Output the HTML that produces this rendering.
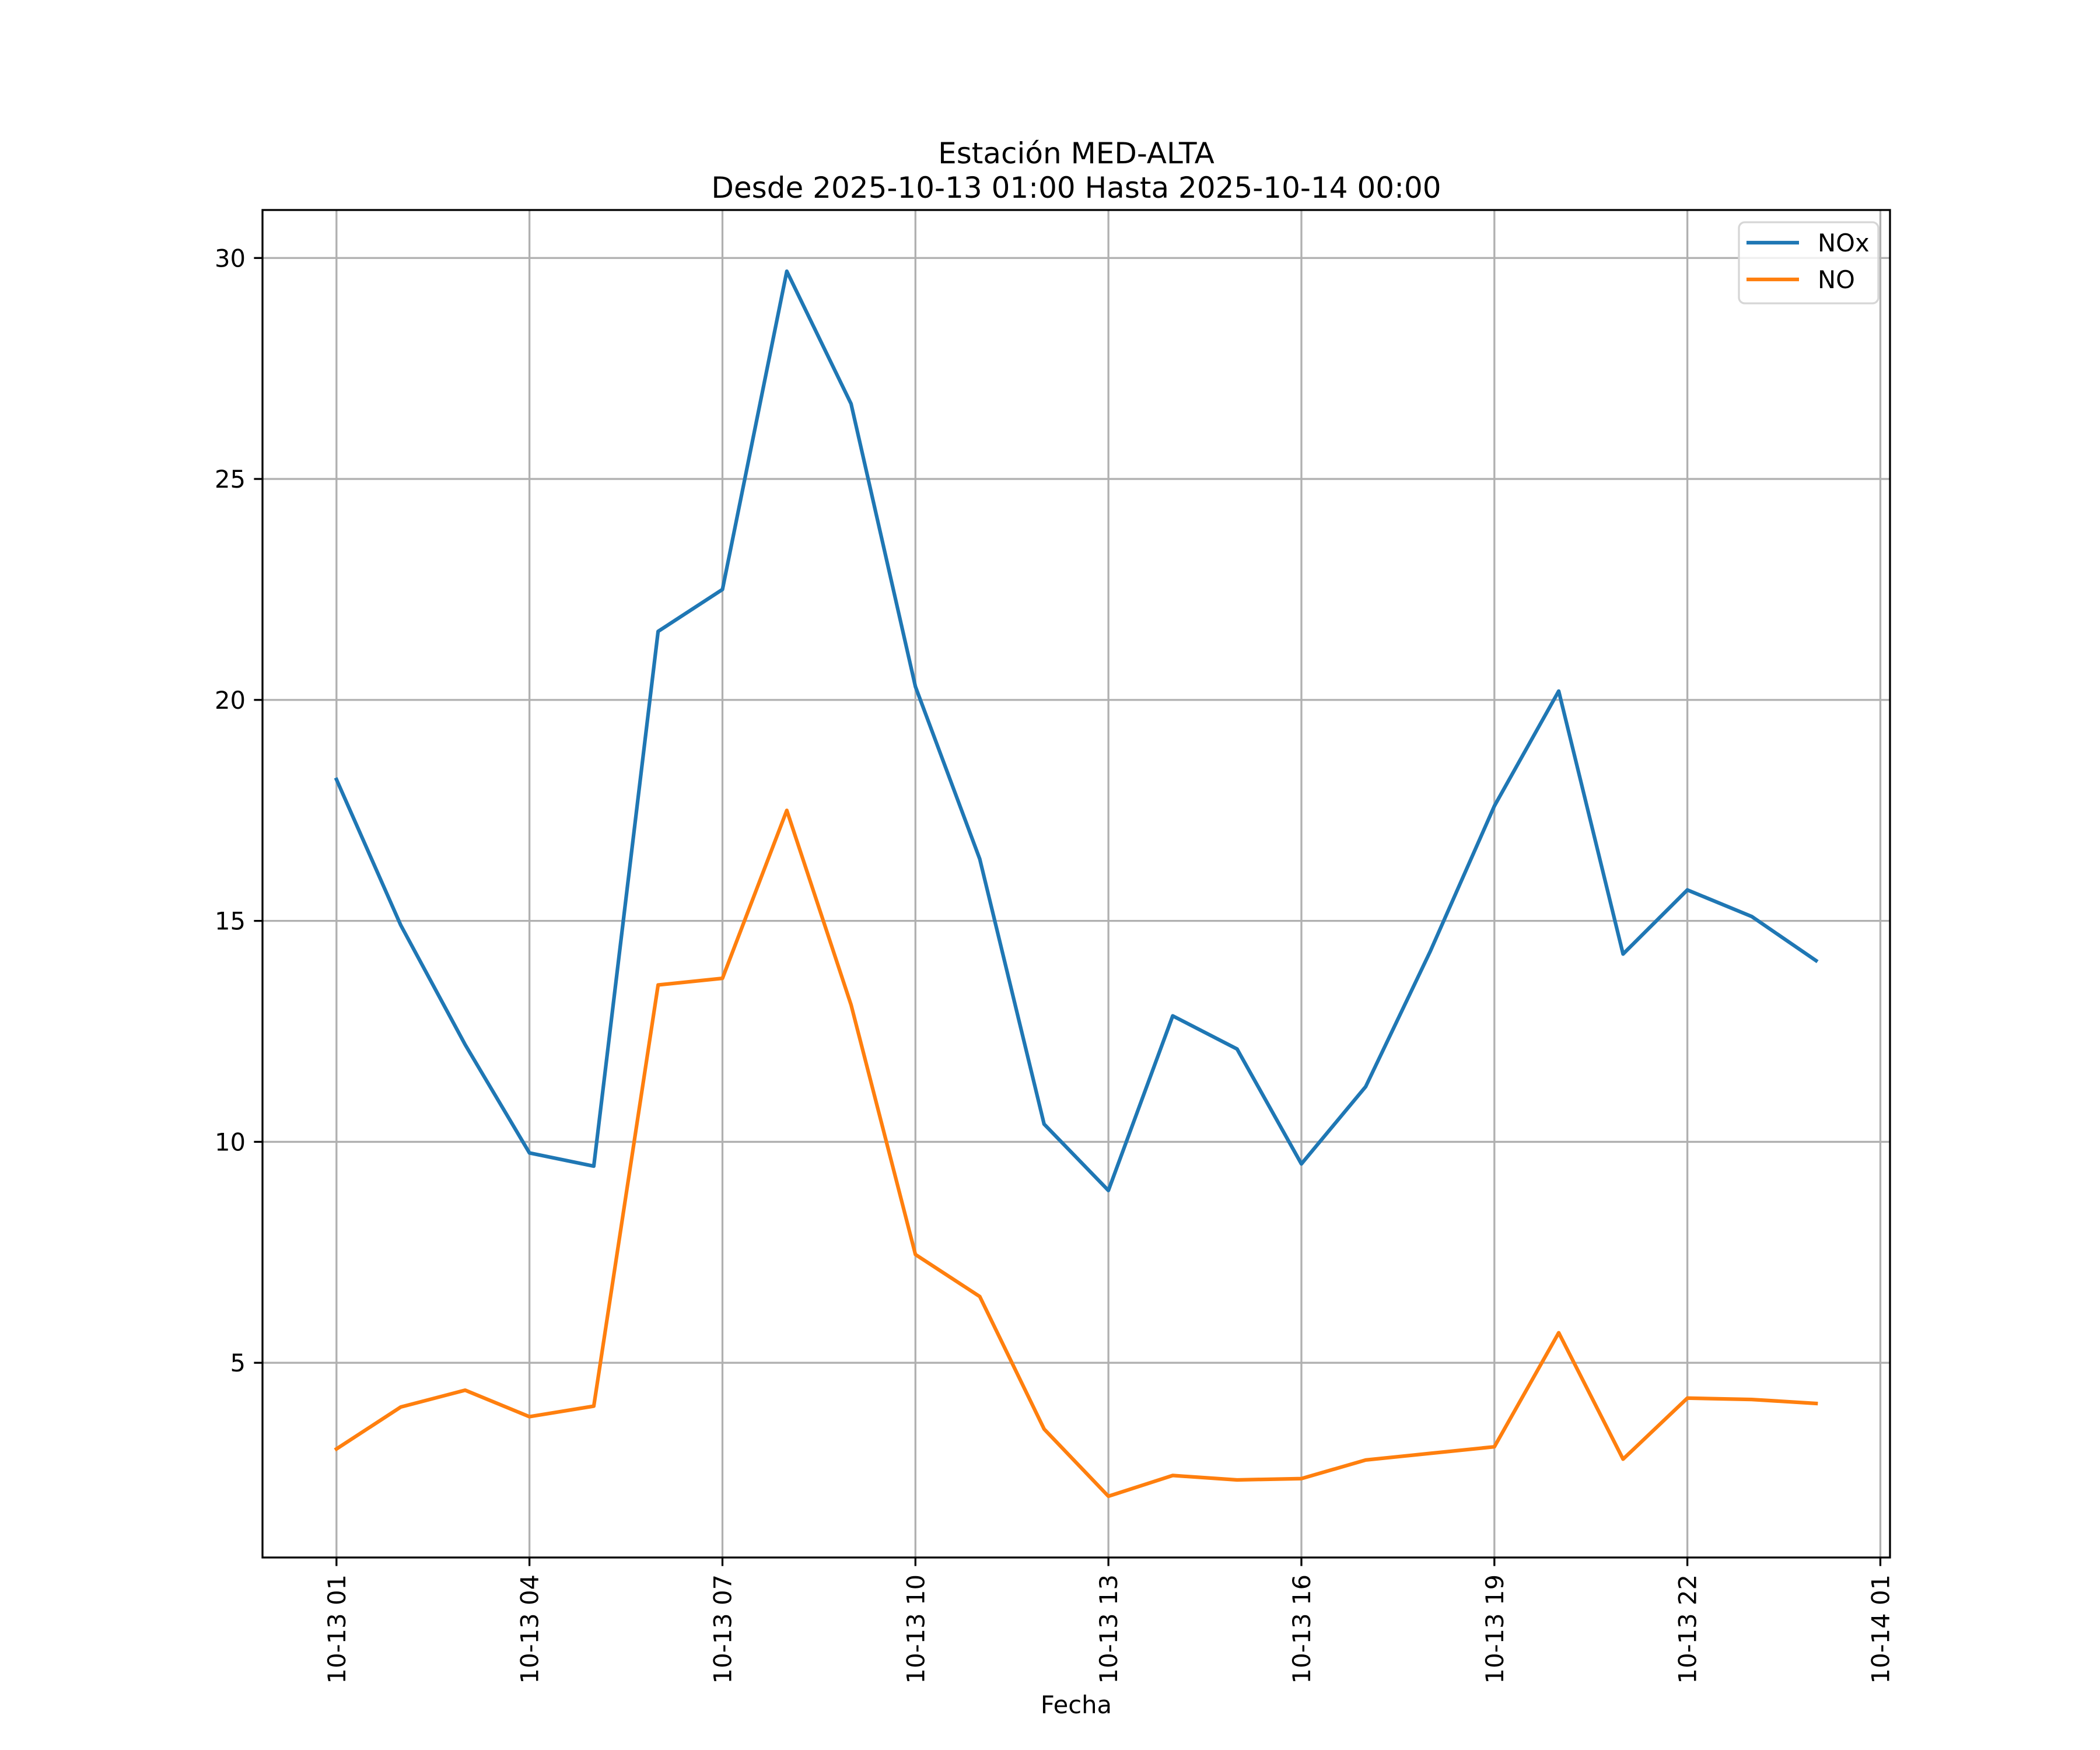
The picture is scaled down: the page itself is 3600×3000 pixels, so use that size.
<!DOCTYPE html>
<html><head><meta charset="utf-8"><style>
html,body{margin:0;padding:0;background:#fff;}
svg{display:block;font-family:"DejaVu Sans","Liberation Sans",sans-serif;}
</style></head><body>
<svg id="chart" width="3600" height="3000" viewBox="0 0 3600 3000" xmlns="http://www.w3.org/2000/svg">
<rect x="0" y="0" width="3600" height="3000" fill="#fff"/>
<text x="1845" y="280" font-size="50" text-anchor="middle">Estación MED-ALTA</text>
<text x="1845" y="339" font-size="50" text-anchor="middle">Desde 2025-10-13 01:00 Hasta 2025-10-14 00:00</text>
<g id="grid"></g>
<g id="series"></g>
<rect x="450" y="360" width="2790" height="2310" fill="none" stroke="#000" stroke-width="3.3"/>
<g id="ticks"></g>
<text x="1845" y="2937" font-size="41.7" text-anchor="middle">Fecha</text>
<g>
<rect x="2981" y="381" width="239" height="139" rx="10" fill="#fff" fill-opacity="0.8" stroke="#d6d6d6" stroke-width="3.3"/>
<line x1="2994" y1="416" x2="3084" y2="416" stroke="#1f77b4" stroke-width="6.25"/>
<text x="3116" y="431" font-size="41.7">NOx</text>
<line x1="2994" y1="479" x2="3084" y2="479" stroke="#ff7f0e" stroke-width="6.25"/>
<text x="3116" y="494" font-size="41.7">NO</text>
</g>
</svg>
<script>
const hours = [0,1,2,3,4,5,6,7,8,9,10,11,12,13,14,15,16,17,18,19,20,21,22,23];
const noxValues = [18.2,14.9,12.2,9.75,9.45,21.55,22.5,29.7,26.7,20.3,16.4,10.4,8.9,12.85,12.1,9.5,11.25,14.3,17.6,20.2,14.25,15.7,15.1,14.1];
const noValues = [3.05,4.0,4.38,3.78,4.02,13.55,13.7,17.5,13.1,7.45,6.5,3.5,1.98,2.45,2.35,2.38,2.8,2.95,3.1,5.68,2.82,4.2,4.17,4.08];
const xTickHours = [0,3,6,9,12,15,18,21,24];
const xTickLabels = ["10-13 01","10-13 04","10-13 07","10-13 10","10-13 13","10-13 16","10-13 19","10-13 22","10-14 01"];
const yTickValues = [5,10,15,20,25,30];

const NS = "http://www.w3.org/2000/svg";
const L=450,R=3240,T=360,B=2670;
const xmin=-1.15, xmax=24.15;
const all = noxValues.concat(noValues);
const dmin=Math.min(...all), dmax=Math.max(...all), pad=(dmax-dmin)*0.05;
const ymin=dmin-pad, ymax=dmax+pad;
function xs(h){return L+(h-xmin)/(xmax-xmin)*(R-L);}
function ys(v){return B-(v-ymin)/(ymax-ymin)*(B-T);}
function mk(tag,attrs,parent){const e=document.createElementNS(NS,tag);for(const k in attrs)e.setAttribute(k,attrs[k]);parent.appendChild(e);return e;}
const grid=document.getElementById('grid'), ticks=document.getElementById('ticks'), series=document.getElementById('series');
xTickHours.forEach((h,i)=>{
  const x=xs(h);
  const g=mk('line',{x1:x,y1:T,x2:x,y2:B,stroke:'#b0b0b0','stroke-width':3.3},grid);
  
  
  const t=mk('line',{x1:x,y1:B,x2:x,y2:B+14.6,stroke:'#000','stroke-width':3.3},ticks);
  
  
  const lb=mk('text',{x:0,y:0,'font-size':41.7,'text-anchor':'end',transform:`translate(${x+15},${B+29}) rotate(-90)`},ticks);
  lb.textContent=xTickLabels[i];
  
  
});
yTickValues.forEach(v=>{
  const y=ys(v);
  const g=mk('line',{x1:L,y1:y,x2:R,y2:y,stroke:'#b0b0b0','stroke-width':3.3},grid);
  
  
  const t=mk('line',{x1:L-14.6,y1:y,x2:L,y2:y,stroke:'#000','stroke-width':3.3},ticks);
  
  
  const lb=mk('text',{x:L-29,y:y+15,'font-size':41.7,'text-anchor':'end'},ticks);
  lb.textContent=String(v);
  
  
});
function line(vals,color,name){
  const pts=vals.map((v,i)=>xs(hours[i]).toFixed(1)+','+ys(v).toFixed(1)).join(' ');
  const p=mk('polyline',{points:pts,fill:'none',stroke:color,'stroke-width':6.25,'stroke-linejoin':'round','stroke-linecap':'square'},series);
  
  
}
line(noxValues,'#1f77b4','nox-line');
line(noValues,'#ff7f0e','no-line');
</script>
</body></html>
